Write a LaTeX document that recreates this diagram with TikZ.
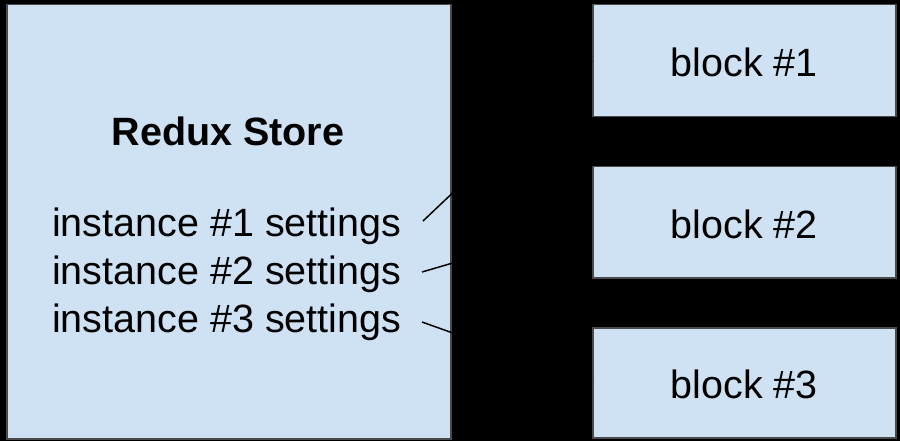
\documentclass[tikz,border=0pt]{standalone}
\usepackage{fontspec}
\setmainfont{Liberation Sans}
\definecolor{boxblue}{HTML}{CFE2F3}
\definecolor{edge}{HTML}{4A4A4A}
\begin{document}
\begin{tikzpicture}[x=1pt,y=-1pt,
  panel/.style={draw=edge,line width=1.5pt,fill=boxblue,anchor=north west,inner sep=0pt},
  label/.style={font=\fontsize{39.5}{48}\selectfont,inner sep=0pt},
  link/.style={draw=black,line width=1.5pt}]
\fill[black] (0,0) rectangle (900,441);
\useasboundingbox (0,0) rectangle (900,441);
\node[panel,minimum width=444pt,minimum height=434pt] (store) at (6,4) {};
\node[panel,minimum width=303pt,minimum height=112pt] (b1) at (592,4) {};
\node[panel,minimum width=303pt,minimum height=111pt] (b2) at (592,166) {};
\node[panel,minimum width=303pt,minimum height=110pt] (b3) at (592,327) {};
\node[label] (t1) at ([yshift=-2pt]b1.center) {block \#1};
\node[label] (t2) at ([yshift=-2pt]b2.center) {block \#2};
\node[label] (t3) at ([yshift=-2pt]b3.center) {block \#3};
\node[label,font=\bfseries\fontsize{39.5}{48}\selectfont] (title) at (228,131) {Redux Store};
\node[label,anchor=west] (s1) at (52,226) {instance \#1 settings};
\node[label,anchor=west] (s2) at (52,274) {instance \#2 settings};
\node[label,anchor=west] (s3) at (52,322) {instance \#3 settings};
\coordinate (c1) at (423,221);
\coordinate (c2) at (422,272);
\coordinate (c3) at (422,322);
\draw[link] (c1) -- (b1.west);
\draw[link] (c2) -- (b2.west);
\draw[link] (c3) -- (b3.west);
\end{tikzpicture}
\end{document}
